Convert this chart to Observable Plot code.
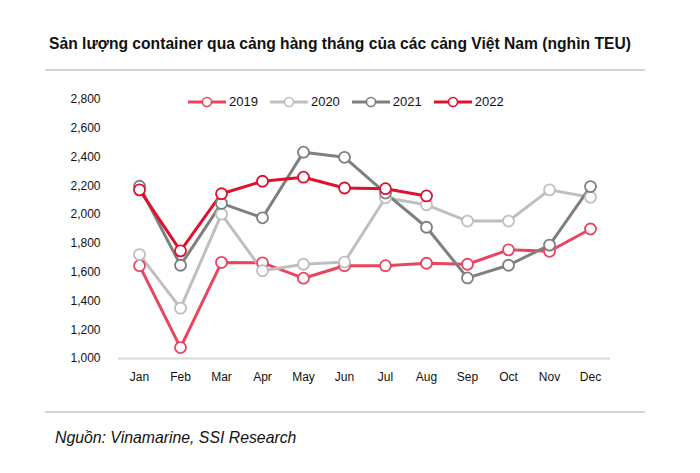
<!DOCTYPE html>
<html>
<head>
<meta charset="utf-8">
<script src="https://cdn.jsdelivr.net/npm/d3@7"></script>
<script src="https://cdn.jsdelivr.net/npm/@observablehq/plot@0.6"></script>
<style>
  body { margin: 0; background: #fff; font-family: "Liberation Sans", sans-serif; }
  #wrap { position: relative; width: 700px; height: 473px; }
  #title { position: absolute; top: 34px; left: 0; width: 680px; text-align: center; font-weight: bold; font-size: 17px; color: #111; transform: scaleX(0.92); transform-origin: 340px 0; }
  .rule { position: absolute; left: 45px; width: 600px; height: 0; border-top: 2px solid #d4d4d4; }
  #chart { position: absolute; top: 80px; left: 0; }
  #legend { position: absolute; top: 94px; left: 188px; display: flex; gap: 12px; font-size: 13px; color: #111; }
  #legend .item { display: flex; align-items: center; gap: 3px; }
  #source { position: absolute; top: 428px; left: 55px; font-style: italic; font-size: 17px; color: #111; transform: scaleX(0.93); transform-origin: 0 0; }
</style>
</head>
<body>
<div id="wrap">
  <div id="title">Sản lượng container qua cảng hàng tháng của các cảng Việt Nam (nghìn TEU)</div>
  <div class="rule" style="top:69px"></div>
  <div id="chart"></div>
  <div id="legend"></div>
  <div class="rule" style="top:411px"></div>
  <div id="source">Nguồn: Vinamarine, SSI Research</div>
</div>
<script>
  // dữ liệu (nghìn TEU)
  const months = ["Jan","Feb","Mar","Apr","May","Jun","Jul","Aug","Sep","Oct","Nov","Dec"];
  const years = ["2019","2020","2021","2022"];
  const colors = ["#e9455f","#bfbfbf","#7f7f7f","#e0102f"];
  const v2019 = [1645,1076,1668,1665,1558,1645,1645,1662,1655,1755,1745,1900];
  const v2020 = [1722,1350,2003,1610,1655,1670,2117,2068,1955,1955,2172,2120];
  const v2021 = [2197,1648,2078,1978,2434,2398,2150,1912,1560,1648,1788,2195];
  const v2022 = [2172,1748,2145,2232,2260,2185,2180,2130];
  const yTicks = [1000,1200,1400,1600,1800,2000,2200,2400,2600,2800];

  const series = [v2019, v2020, v2021, v2022];
  const data = [];
  series.forEach((vals, i) => {
    vals.forEach((v, j) => data.push({year: years[i], month: months[j], value: v}));
  });

  let chart = Plot.plot({
    width: 700,
    height: 320,
    marginTop: 19,
    marginBottom: 42,
    marginLeft: 118,
    marginRight: 90,
    style: {fontFamily: "Liberation Sans, sans-serif", fontSize: 12, color: "#111"},
    x: {type: "point", domain: months, padding: 0.5, label: null, tickSize: 0, tickPadding: 14},
    y: {domain: [1000, 2800], ticks: yTicks, tickFormat: d3.format(","), label: null, tickSize: 0, tickPadding: 18},
    color: {domain: years, range: colors},
    marks: [
      Plot.ruleY([1000], {stroke: "#d9d9d9", strokeWidth: 2}),
      Plot.line(data, {x: "month", y: "value", z: "year", stroke: "year", strokeWidth: 3}),
      Plot.dot(data, {x: "month", y: "value", stroke: "year", fill: "white", r: 5.5, strokeWidth: 1.8})
    ]
  });
  d3.select("#chart").append(() => chart);

  // chú thích
  const leg = d3.select("#legend");
  years.forEach((y, i) => {
    const it = leg.append("div").attr("class", "item");
    const s = it.append("svg").attr("width", 38).attr("height", 14);
    s.append("line").attr("x1", 0).attr("x2", 38).attr("y1", 7).attr("y2", 7)
      .attr("stroke", colors[i]).attr("stroke-width", 3);
    s.append("circle").attr("cx", 19).attr("cy", 7).attr("r", 4.5)
      .attr("fill", "white").attr("stroke", colors[i]).attr("stroke-width", 1.6);
    it.append("span").text(y);
  });
</script>
</body>
</html>
